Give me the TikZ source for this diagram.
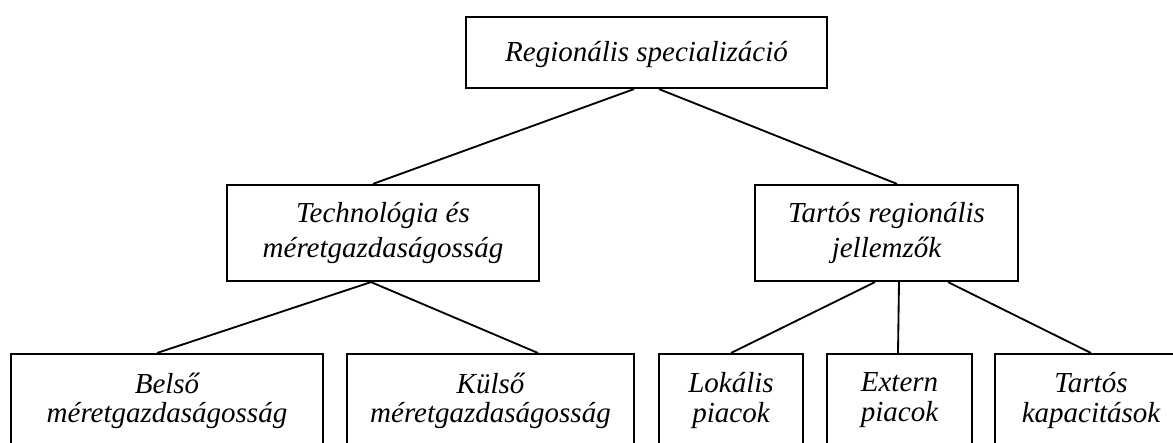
\documentclass[tikz,border=0pt]{standalone}
\usepackage{fontspec}
\setmainfont{Liberation Serif}
\begin{document}
\begin{tikzpicture}[
    doboz/.style={draw, line width=1.25pt, inner sep=0pt, align=center,
      font=\itshape\fontsize{16.5}{20.4}\selectfont},
    also/.style={doboz, anchor=north, inner ysep=0.37cm, text depth=1.6cm,
      font=\itshape\fontsize{16.5}{17}\selectfont},
    vonal/.style={line width=1.05pt}
  ]

  % Keret: a kep szele levagja az also dobozokat
  \useasboundingbox (0,0) rectangle (23.46,8.86);
  \clip (0,0) rectangle (23.46,8.86);

  % Felso szint
  \node[doboz, minimum width=7.22cm, minimum height=1.42cm, text height=0.5cm] (regio) at (12.93,7.81) {Regionális specializáció};

  % Kozepso szint
  \node[doboz, minimum width=6.24cm, minimum height=1.92cm] (tech) at (7.66,4.20) {Technológia és\\méretgazdaságosság};
  \node[doboz, minimum width=5.26cm, minimum height=1.92cm] (tartos) at (17.73,4.20) {Tartós regionális\\jellemzők};

  % Also szint, a dobozok teteje y=1.80-nal
  \foreach \nev/\x/\w/\szoveg in {belso/3.34/6.24/{Belső\\méretgazdaságosság},
      kulso/9.81/5.74/{Külső\\méretgazdaságosság},
      lokalis/14.62/2.88/{Lokális\\piacok},
      extern/17.99/2.90/{Extern\\piacok},
      kapac/21.82/3.84/{Tartós\\kapacitások}} {
    \node[also, minimum width=\w cm] (\nev) at (\x,1.80) {\szoveg};
  }

  % Osszekoto vonalak
  \draw[vonal] ([xshift=-0.25cm]regio.south) -- ([xshift=-0.2cm]tech.north);
  \draw[vonal] ([xshift=0.25cm]regio.south) -- ([xshift=0.21cm]tartos.north);
  \draw[vonal] ([xshift=-0.24cm]tech.south) -- ([xshift=-0.2cm]belso.north);
  \draw[vonal] ([xshift=-0.24cm]tech.south) -- ([xshift=0.95cm]kulso.north);
  \foreach \cel/\ki/\be in {lokalis/-0.23/0, extern/0.25/-0.03, kapac/1.23/0} {
    \draw[vonal] ([xshift=\ki cm]tartos.south) -- ([xshift=\be cm]\cel.north);
  }

\end{tikzpicture}
\end{document}
